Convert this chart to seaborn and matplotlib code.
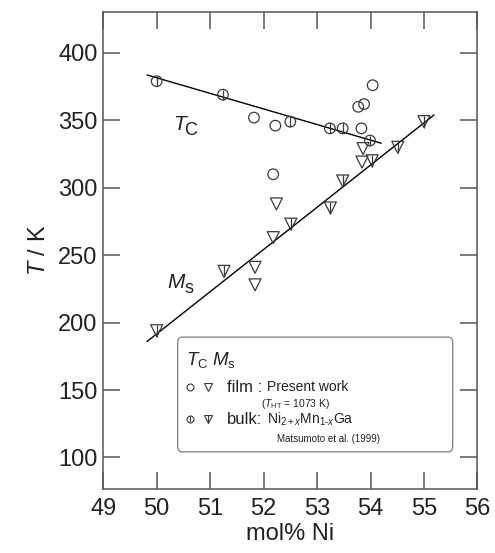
import numpy as np
import matplotlib
matplotlib.use('Agg')
import matplotlib.pyplot as plt
import seaborn as sns
from matplotlib.patches import FancyBboxPatch

# ── Data ───────────────────────────────────────────────────
tc_film_x = [51.82, 52.18, 52.22, 53.77, 53.83, 53.88, 54.04]
tc_film_t = [352, 310, 346, 360, 344, 362, 376]
tc_bulk_x = [50.0, 51.24, 52.50, 53.24, 53.48, 53.99]
tc_bulk_t = [379, 369, 349, 344, 344, 335]
ms_film_x = [51.84, 51.84, 52.18, 52.24, 53.84, 53.86]
ms_film_t = [241, 228, 263, 288, 319, 329]
ms_bulk_x = [50.0, 51.26, 52.51, 53.25, 53.48, 54.03, 54.51, 55.0]
ms_bulk_t = [194, 238, 273, 285, 305, 320, 330, 349]
tc_fit_x = [49.82, 54.20]
tc_fit_t = [383.6, 333.0]
ms_fit_x = [49.82, 55.19]
ms_fit_t = [186.0, 354.0]

x_ticks = [49, 50, 51, 52, 53, 54, 55, 56]
y_ticks = [100, 150, 200, 250, 300, 350, 400]

# ── Style ──────────────────────────────────────────────────
sns.set_style('ticks')
plt.rcParams['font.family'] = ['Liberation Sans', 'DejaVu Sans']
plt.rcParams['mathtext.fontset'] = 'custom'
plt.rcParams['mathtext.rm'] = 'Liberation Sans'
plt.rcParams['mathtext.it'] = 'Liberation Sans:italic'

EDGE = '#3a3a3a'
AX = '#555555'
INK = '#222222'

fig = plt.figure(figsize=(4.95, 5.53), dpi=100)
ax = fig.add_axes([0.2085, 0.1166, 0.756, 0.861])

# fit lines
sns.lineplot(x=tc_fit_x, y=tc_fit_t, color='k', lw=1.0, ax=ax)
sns.lineplot(x=ms_fit_x, y=ms_fit_t, color='k', lw=1.0, ax=ax)

# markers: film open, bulk open with vertical bar
mk = dict(facecolors='none', edgecolor=EDGE, linewidth=0.9, ax=ax, zorder=3)
sns.scatterplot(x=tc_film_x, y=tc_film_t, marker='o', s=58, **mk)
sns.scatterplot(x=tc_bulk_x, y=tc_bulk_t, marker='o', s=58, **mk)
sns.scatterplot(x=ms_film_x, y=ms_film_t, marker='v', s=74, **mk)
sns.scatterplot(x=ms_bulk_x, y=ms_bulk_t, marker='v', s=74, **mk)
sns.scatterplot(x=tc_bulk_x, y=tc_bulk_t, marker='|', s=58, color=EDGE,
                linewidth=0.9, ax=ax, zorder=3)
sns.scatterplot(x=ms_bulk_x, y=ms_bulk_t, marker='|', s=74, color=EDGE,
                linewidth=0.9, ax=ax, zorder=3)


def sub_label(x, y, main, sub, size, subsize, dx, dy, transform):
    ax.text(x, y, main, fontsize=size, style='italic', color=INK,
            va='baseline', ha='left', transform=transform, zorder=6)
    ax.annotate(sub, xy=(x, y), xycoords=transform, xytext=(dx, dy),
                textcoords='offset points', fontsize=subsize, color=INK,
                va='baseline', ha='left', zorder=6)


# curve labels
sub_label(50.30, 343, 'T', 'C', 15, 13, 8.5, -4, ax.transData)
sub_label(50.20, 226, 'M', 's', 15, 13, 12.5, -4, ax.transData)

# axes
ax.set_xlim(49, 56)
ax.set_ylim(77, 430)
ax.set_xticks(x_ticks)
ax.set_yticks(y_ticks)
ax.tick_params(direction='in', length=12, width=1.1, color=AX,
               top=True, right=True, labelsize=17, labelcolor=INK)
ax.tick_params(axis='x', pad=7)
ax.tick_params(axis='y', pad=4)
for sp in ax.spines.values():
    sp.set_color(AX)
    sp.set_linewidth(1.1)
ax.set_xlabel('mol% Ni', fontsize=17, color=INK, labelpad=2)
ax.set_ylabel('$T$ / K', fontsize=17, color=INK, labelpad=6)

# ── Legend box (hand-built) ────────────────────────────────
box = FancyBboxPatch((0.199, 0.077), 0.735, 0.241, transform=ax.transAxes,
                     boxstyle='round,pad=0,rounding_size=0.012',
                     facecolor='white', edgecolor='#8a8a8a', lw=1.0, zorder=4)
ax.add_patch(box)
T = ax.transAxes
kw = dict(transform=T, va='center', ha='left', color=INK, zorder=5)
ax.text(0.222, 0.270, r'$T_{\rm C}$', fontsize=13.5, **kw)
ax.text(0.292, 0.270, r'$M_{\rm s}$', fontsize=13.5, **kw)
row1, row2 = 0.213, 0.146
for yy in (row1, row2):
    ax.plot([0.232], [yy], 'o', ms=5, mfc='none', mec=EDGE, mew=0.8, transform=T, zorder=5)
    ax.plot([0.281], [yy], 'v', ms=6, mfc='none', mec=EDGE, mew=0.8, transform=T, zorder=5)
ax.plot([0.232], [row2], '|', ms=5, mec=EDGE, mew=0.8, transform=T, zorder=5)
ax.plot([0.281], [row2], '|', ms=6, mec=EDGE, mew=0.8, transform=T, zorder=5)
ax.text(0.330, row1, 'film :', fontsize=12, **kw)
ax.text(0.437, row1, 'Present work', fontsize=10, **kw)
ax.text(0.422, 0.178, r'($T_{\rm HT}$ = 1073 K)', fontsize=7.5, **kw)
ax.text(0.330, row2, 'bulk:', fontsize=12, **kw)
ax.text(0.437, row2, r'Ni$_{2+x}$Mn$_{1\text{-}x}$Ga', fontsize=10, **kw)
ax.text(0.464, 0.105, 'Matsumoto et al. (1999)', fontsize=7, **kw)

plt.savefig('out.png', dpi=100)
